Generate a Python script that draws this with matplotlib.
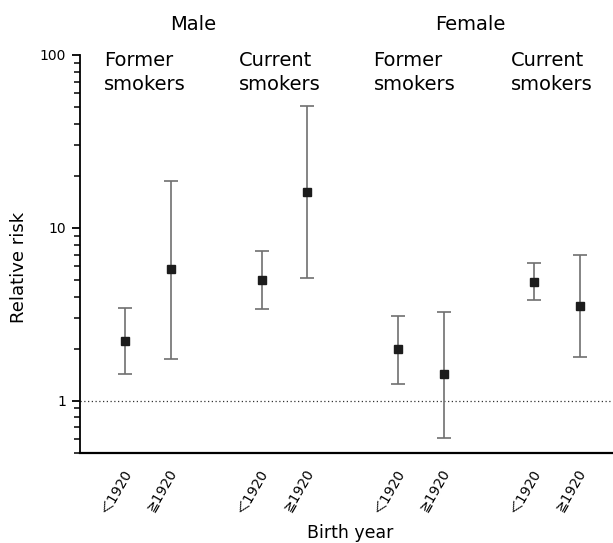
import matplotlib
matplotlib.use("Agg")
import matplotlib.pyplot as plt
import matplotlib.transforms as mtransforms
from matplotlib.ticker import LogLocator, NullFormatter, FixedLocator, FixedFormatter
import numpy as np

plt.rcParams['font.family'] = ['DejaVu Sans', 'Noto Sans CJK JP']

# Relative risk of each group with 95% confidence limits
positions = [0, 1, 3, 4, 6, 7, 9, 10]
tick_labels = ['＜1920', '≧1920'] * 4
rr = [2.20, 5.80, 4.99, 16.1, 1.98, 1.42, 4.87, 3.51]
rr_low = [1.42, 1.75, 3.39, 5.12, 1.25, 0.61, 3.80, 1.78]
rr_high = [3.42, 18.7, 7.31, 50.5, 3.10, 3.27, 6.28, 6.93]

sex_labels = ['Male', 'Female']
sex_label_x = [1.48, 7.6]
status_labels = ['Former\nsmokers', 'Current\nsmokers', 'Former\nsmokers', 'Current\nsmokers']
status_label_x = [-0.48, 2.5, 5.46, 8.48]

fig = plt.figure(figsize=(6.13, 5.43), dpi=100)
W, H = 613, 543
ax = fig.add_axes([80 / W, 1 - 453.3 / H, (W - 80) / W, (453.3 - 55) / H])

y = np.array(rr)
yerr = np.vstack([y - np.array(rr_low), np.array(rr_high) - y])
line, caps, bars = ax.errorbar(positions, y, yerr=yerr, fmt='s', color='#1c1c1c',
                               markersize=6, ecolor='#707070', elinewidth=1.2,
                               capsize=5, capthick=1.2, zorder=3)
for c in caps:
    c.set_color('#3a3a3a')

ax.set_yscale('log')
ax.set_ylim(0.495, 100)
ax.set_xlim(-1.0, 10.73)

ax.axhline(1, color='#333333', lw=0.9, ls=(0, (1, 2)), zorder=1)

ax.yaxis.set_major_locator(FixedLocator([1, 10, 100]))
ax.yaxis.set_major_formatter(FixedFormatter(['1', '10', '100']))
ax.yaxis.set_minor_locator(LogLocator(base=10, subs=np.arange(2, 10)))
ax.yaxis.set_minor_formatter(NullFormatter())
ax.tick_params(axis='y', which='major', length=6, width=1.3, labelsize=10, pad=4)
ax.tick_params(axis='y', which='minor', length=4, width=1.1)

ax.set_xticks(positions)
ax.set_xticklabels(tick_labels, rotation=60, ha='right', va='center',
                   rotation_mode='anchor', fontsize=10)
ax.tick_params(axis='x', length=0, pad=12)
shift = mtransforms.ScaledTranslation(3 / 100, 0, fig.dpi_scale_trans)
for t in ax.get_xticklabels():
    t.set_transform(t.get_transform() + shift)

for s in ['top', 'right']:
    ax.spines[s].set_visible(False)
ax.spines['left'].set_linewidth(1.3)
ax.spines['bottom'].set_linewidth(1.6)

trans = mtransforms.blended_transform_factory(ax.transData, fig.transFigure)
for lbl, xp in zip(sex_labels, sex_label_x):
    ax.text(xp, 1 - 24 / H, lbl, transform=trans, ha='center', va='center', fontsize=14)
for lbl, xp in zip(status_labels, status_label_x):
    ax.text(xp, 1 - 51 / H, lbl, transform=trans, ha='left', va='top',
            fontsize=14, linespacing=1.3)

fig.text(19 / W, 1 - 267 / H, 'Relative risk', rotation=90, ha='center', va='center', fontsize=13)
fig.text(350 / W, 1 - 538 / H, 'Birth year', ha='center', va='baseline', fontsize=12.5)

fig.savefig('out.png', dpi=100)
